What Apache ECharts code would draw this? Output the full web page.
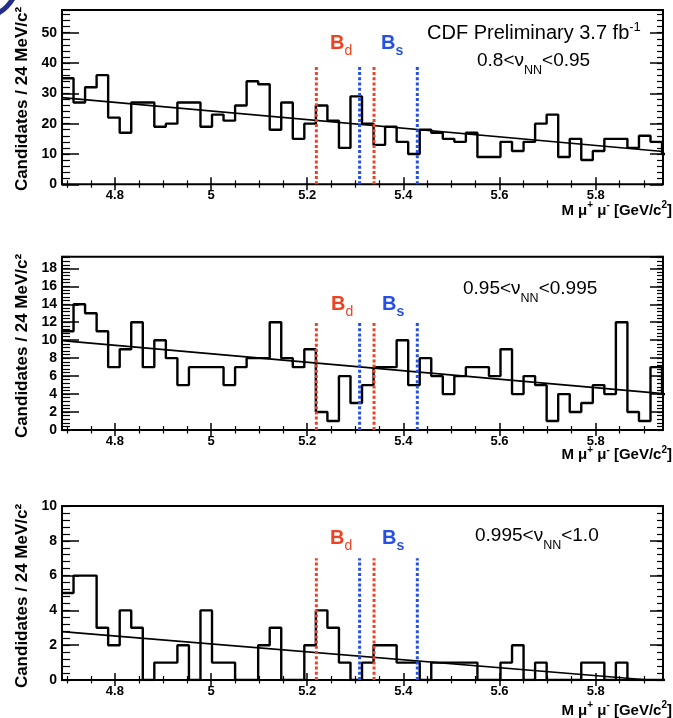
<!DOCTYPE html>
<html><head><meta charset="utf-8">
<script src="https://cdn.jsdelivr.net/npm/echarts@6/dist/echarts.min.js"></script>
<style>html,body{margin:0;padding:0;background:#fff}#c{width:673px;height:718px}</style>
</head><body><div id="c"></div>
<script>
// ---------- data ----------
const binStart = 4.69;
const binWidth = 0.024;
const xMin = 4.69, xMax = 5.94;
const majorTicks = [4.8, 5, 5.2, 5.4, 5.6, 5.8];
const minorTicks = [4.7, 4.75, 4.85, 4.9, 4.95, 5.05, 5.1, 5.15, 5.25, 5.3, 5.35, 5.45, 5.5, 5.55, 5.65, 5.7, 5.75, 5.85, 5.9];

const counts1 = [35,27,32,36,22,17,27,27,19,20,27,27,19,23,21,26,34,33,18,27,15,20,26,21,
                 12,29,20,13,19,14,10,18,17,15,14,17,9,9,
                 14,11,14,20,23,9,15,8,11,15,15,12,16,14,10];
const counts2 = [11,14,13,11,7,9,12,7,10,8,5,7,7,7,5,7,8,8,12,8,7,9,2,1,
                 6,3,5,7,7,10,5,8,6,4,6,7,7,6,
                 9,4,6,5,1,4,2,3,5,4,12,2,1,7,4];
const counts3 = [5,6,6,3,2,4,3,0,1,1,2,0,4,1,1,0,0,2,3,0,0,2,4,3,
                 1,0,1,2,2,1,1,0,1,1,1,1,0,0,
                 1,2,0,1,0,0,0,1,1,0,1,0,0,0,0];
const fit1 = [[4.69, 28.6], [5.94, 10.8]];
const fit2 = [[4.69, 9.95], [5.94, 4.05]];
const fit3 = [[4.69, 2.78], [5.91, 0]];
const bdWindow = [5.219, 5.339];
const bsWindow = [5.309, 5.429];
const windowHeights = [39, 12, 7];
const yMax = [57.5, 19.3, 10];
const yMajor = [10, 2, 2];
const yMinor = [2, 0.4, 0.4];
const nnLabels = [['0.8<ν', '<0.95'], ['0.95<ν', '<0.995'], ['0.995<ν', '<1.0']];

// ---------- layout ----------
const FONT = '"Liberation Sans", Arial, Helvetica, sans-serif';
const RED = '#ee4220', BLUE = '#2450e6';
const grids = [
  {left: 62, top: 10, width: 601, height: 174.3},
  {left: 62, top: 256.7, width: 601, height: 173.3},
  {left: 62, top: 506, width: 601, height: 174}
];
const allCounts = [counts1, counts2, counts3];
const allFits = [fit1, fit2, fit3];

function histPoints(c) {
  const pts = c.map((v, k) => [binStart + k * binWidth, v]);
  pts.push([binStart + c.length * binWidth, c[c.length - 1]]);
  return pts;
}

const xAxes = [], yAxes = [], series = [];
grids.forEach((g, i) => {
  const xb = {type: 'value', gridIndex: i, min: xMin, max: xMax, splitLine: {show: false}, axisLine: {show: false}};
  const tickStyle = {color: '#000', width: 1.5};
  xAxes.push(Object.assign({}, xb, {position: 'bottom',
    axisTick: {show: true, inside: true, length: 7, customValues: majorTicks, lineStyle: tickStyle},
    axisLabel: {show: true, customValues: majorTicks, margin: 5, fontSize: 13, fontWeight: 'bold', color: '#000', fontFamily: FONT}}));
  xAxes.push(Object.assign({}, xb, {position: 'bottom',
    axisTick: {show: true, inside: true, length: 4, customValues: minorTicks, lineStyle: {color: '#000', width: 1.2}},
    axisLabel: {show: false}}));
  xAxes.push(Object.assign({}, xb, {position: 'top',
    axisTick: {show: true, inside: true, length: 6, customValues: majorTicks, lineStyle: tickStyle},
    axisLabel: {show: false}}));
  xAxes.push(Object.assign({}, xb, {position: 'top',
    axisTick: {show: true, inside: true, length: 3.5, customValues: minorTicks, lineStyle: {color: '#000', width: 1.2}},
    axisLabel: {show: false}}));

  const yb = {type: 'value', gridIndex: i, min: 0, max: yMax[i], splitLine: {show: false}, axisLine: {show: false}};
  yAxes.push(Object.assign({}, yb, {position: 'left', interval: yMajor[i],
    axisTick: {show: true, inside: true, length: 17, lineStyle: tickStyle},
    axisLabel: {show: true, margin: 5, fontSize: 14, fontWeight: 'bold', color: '#000', fontFamily: FONT,
      showMaxLabel: (yMax[i] % yMajor[i] === 0)}}));
  yAxes.push(Object.assign({}, yb, {position: 'left', interval: yMinor[i],
    axisTick: {show: true, inside: true, length: 8, lineStyle: {color: '#000', width: 1.2}},
    axisLabel: {show: false}}));
  yAxes.push(Object.assign({}, yb, {position: 'right', interval: yMajor[i],
    axisTick: {show: true, inside: true, length: 13, lineStyle: tickStyle},
    axisLabel: {show: false}}));
  yAxes.push(Object.assign({}, yb, {position: 'right', interval: yMinor[i],
    axisTick: {show: true, inside: true, length: 6, lineStyle: {color: '#000', width: 1.2}},
    axisLabel: {show: false}}));

  const xi = 4 * i, yi = 4 * i;
  series.push({type: 'line', xAxisIndex: xi, yAxisIndex: yi, step: 'end', data: histPoints(allCounts[i]),
    symbol: 'none', lineStyle: {color: '#000', width: 2.4}, z: 3, silent: true});
  series.push({type: 'line', xAxisIndex: xi, yAxisIndex: yi, data: allFits[i],
    symbol: 'none', lineStyle: {color: '#000', width: 1.6}, z: 4, silent: true});
  const lines = [[bdWindow[0], RED], [bdWindow[1], RED], [bsWindow[0], BLUE], [bsWindow[1], BLUE]];
  lines.forEach(([x, col]) => {
    series.push({type: 'line', xAxisIndex: xi, yAxisIndex: yi, data: [[x, 0], [x, windowHeights[i]]],
      symbol: 'none', lineStyle: {color: col, width: 3, type: [3, 2.2]}, z: 5, silent: true});
  });
});

// rich text helper: parts = {t, size, weight, color, shift}
function richLabel(x, y, parts, align) {
  const LH = 40;
  const rich = {};
  let text = '';
  parts.forEach((p, idx) => {
    const key = 'k' + idx;
    const shift = p.shift || 0;
    const h = LH - 2 * Math.abs(shift);
    rich[key] = {
      fontSize: p.size, fontWeight: p.weight || 'normal', fontFamily: FONT,
      fill: p.color || '#000', color: p.color || '#000',
      lineHeight: shift === 0 ? LH : h, height: shift === 0 ? LH : h,
      verticalAlign: shift > 0 ? 'bottom' : (shift < 0 ? 'top' : 'middle')
    };
    text += '{' + key + '|' + p.t + '}';
  });
  return {type: 'text', x: x, y: y, z: 100, silent: true,
    style: {text: text, rich: rich, align: align || 'left', textAlign: align || 'left',
      verticalAlign: 'middle', textVerticalAlign: 'middle'}};
}

const graphics = [];
// decoration in the corner
graphics.push({type: 'arc', shape: {cx: -20, cy: -20, r: 37.7, startAngle: 0, endAngle: Math.PI / 2},
  style: {stroke: '#22308c', lineWidth: 5, fill: null}, silent: true, z: 100});

// CDF label
graphics.push(richLabel(427, 33.8, [
  {t: 'CDF Preliminary 3.7 fb', size: 20},
  {t: '-1', size: 13, shift: -6.5}
]));
const nnY = [60.8, 289.1, 535.8];
const nnX = [477, 463, 475];
const bY = [43.8, 304.8, 538.8];
const bdX = [330, 331, 330];
const bsX = [381, 382, 382];
const nameY = [210.4, 455, 710.4];
const yNameY = [99, 346, 596];
for (let i = 0; i < 3; i++) {
  graphics.push(richLabel(nnX[i], nnY[i], [
    {t: nnLabels[i][0], size: 19},
    {t: 'NN', size: 12.5, shift: 9.3},
    {t: nnLabels[i][1], size: 19}
  ]));
  graphics.push(richLabel(bdX[i], bY[i], [
    {t: 'B', size: 20, weight: 'bold', color: RED},
    {t: 'd', size: 14, color: RED, shift: 7}
  ]));
  graphics.push(richLabel(bsX[i], bY[i], [
    {t: 'B', size: 20, weight: 'bold', color: BLUE},
    {t: 's', size: 14, weight: 'bold', color: BLUE, shift: 7}
  ]));
  graphics.push(richLabel(672, nameY[i], [
    {t: 'M μ', size: 15, weight: 'bold'},
    {t: '+', size: 10, weight: 'bold', shift: -5},
    {t: ' μ', size: 15, weight: 'bold'},
    {t: '-', size: 10, weight: 'bold', shift: -5},
    {t: ' [GeV/c', size: 15, weight: 'bold'},
    {t: '2', size: 10, weight: 'bold', shift: -5},
    {t: ']', size: 15, weight: 'bold'}
  ], 'right'));
  graphics.push({type: 'text', x: 22.5, y: yNameY[i], rotation: Math.PI / 2, z: 100, silent: true,
    style: {text: 'Candidates / 24 MeV/c²', font: 'bold 17px ' + FONT, fill: '#000',
      align: 'center', textAlign: 'center', verticalAlign: 'middle', textVerticalAlign: 'middle'}});
}

const chart = echarts.init(document.getElementById('c'), null, {renderer: 'canvas'});
chart.setOption({
  animation: false,
  backgroundColor: '#fff',
  grid: grids.map(g => Object.assign({show: true, borderColor: '#000', borderWidth: 2,
    backgroundColor: 'transparent', containLabel: false, outerBoundsMode: 'none'}, g)),
  xAxis: xAxes,
  yAxis: yAxes,
  series: series,
  graphic: graphics
});
</script></body></html>
